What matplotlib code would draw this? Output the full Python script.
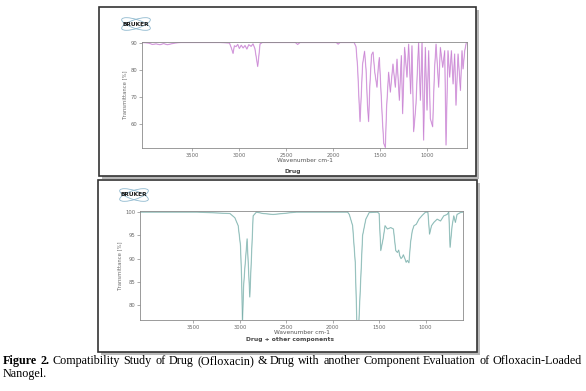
import matplotlib.pyplot as plt
from matplotlib.patches import Rectangle, Ellipse

# top spectrum: drug (ofloxacin)
drug_wn = [4030, 3960, 3920, 3880, 3840, 3800, 3760, 3720, 3680, 3620, 3200, 3100,
           3080, 3062, 3048, 3030, 3012, 2995, 2975, 2955, 2935, 2915, 2895, 2870,
           2850, 2830, 2815, 2800, 2788, 2775, 2750, 2400, 2375, 2350, 1965, 1945,
           1925, 1775, 1755, 1738, 1722, 1712, 1700, 1685, 1664, 1648, 1633, 1621,
           1608, 1590, 1574, 1555, 1532, 1518, 1507, 1492, 1475, 1460, 1443, 1430,
           1408, 1390, 1362, 1337, 1319, 1294, 1273, 1259, 1238, 1213, 1195, 1174,
           1160, 1142, 1130, 1117, 1100, 1089, 1071, 1053, 1036, 1018, 1000, 982,
           965, 940, 928, 919, 904, 876, 858, 833, 812, 798, 777, 759, 741, 723,
           706, 692, 670, 645, 628, 617, 599, 582]
drug_T = [90.0, 89.8, 89.3, 89.5, 89.2, 89.6, 89.2, 89.5, 89.8, 90.0, 90.0, 89.8,
          88.0, 86.0, 88.8, 88.5, 89.3, 87.8, 89.0, 88.0, 88.9, 87.6, 89.2, 88.6,
          89.5, 87.8, 84.5, 81.2, 85.0, 89.5, 90.0, 90.0, 89.3, 90.0, 90.0, 89.4,
          90.0, 90.0, 88.5, 81.0, 68.0, 61.0, 70.0, 82.0, 86.8, 80.0, 67.0, 61.0,
          74.0, 85.5, 86.5, 79.0, 73.6, 81.0, 84.5, 74.0, 62.0, 53.0, 51.5, 66.0,
          79.1, 71.8, 82.1, 73.6, 83.9, 68.8, 85.2, 63.9, 88.2, 77.3, 89.4, 71.2,
          88.8, 57.3, 62.0, 67.6, 82.0, 90.0, 68.8, 90.0, 54.2, 88.2, 65.2, 87.0,
          62.1, 59.1, 72.0, 80.9, 89.4, 73.6, 88.2, 80.9, 87.0, 52.4, 87.0, 77.3,
          87.0, 74.8, 85.8, 67.0, 85.8, 72.4, 87.0, 80.3, 87.0, 90.0]

# bottom spectrum: drug + other components
mix_wn = [4075, 3820, 3460, 3107, 3054, 3018, 2993, 2980, 2972, 2960, 2947, 2922,
          2893, 2857, 2822, 2750, 2643, 2536, 2393, 1840, 1822, 1786, 1758, 1740,
          1720, 1697, 1679, 1644, 1608, 1519, 1501, 1483, 1458, 1437, 1412, 1376,
          1347, 1322, 1304, 1290, 1279, 1265, 1251, 1240, 1222, 1210, 1197, 1180,
          1162, 1144, 1126, 1101, 1072, 1037, 1001, 976, 958, 937, 912, 876, 840,
          805, 769, 751, 737, 715, 697, 680, 662, 626, 598]
mix_T = [99.9, 99.9, 99.9, 99.6, 98.7, 97.0, 92.7, 85.0, 76.0, 84.0, 87.8, 94.2,
         81.8, 99.1, 99.9, 99.6, 99.4, 99.6, 99.9, 99.9, 99.4, 97.0, 89.2, 76.0,
         76.0, 86.4, 94.9, 98.4, 99.8, 99.9, 99.6, 91.7, 94.2, 97.0, 96.3, 96.6,
         96.3, 91.7, 91.3, 91.8, 90.6, 90.0, 90.3, 90.8, 89.9, 89.2, 89.6, 89.1,
         93.5, 95.9, 97.0, 97.3, 98.4, 99.2, 99.9, 99.9, 95.2, 97.0, 97.7, 98.4, 98.0,
         99.1, 99.4, 99.9, 92.4, 97.0, 99.1, 97.7, 99.4, 99.8, 99.9]

xticks = [3500, 3000, 2500, 2000, 1500, 1000]
drug_yticks = [60, 70, 80, 90]
mix_yticks = [80, 85, 90, 95, 100]

W, H = 586, 391
fig = plt.figure(figsize=(W / 100, H / 100), dpi=100)


def box(px0, py0, px1, py1):
    # figure-fraction rect from pixel corners (y down)
    return [px0 / W, 1 - py1 / H, (px1 - px0) / W, (py1 - py0) / H]


def frame(px0, py0, px1, py1):
    x, y, w, h = box(px0, py0, px1, py1)
    fig.add_artist(Rectangle((x + 2.5 / W, y - 2.5 / H), w, h, transform=fig.transFigure,
                             facecolor='#b8b8b8', edgecolor='none', zorder=-20))
    fig.add_artist(Rectangle((x, y), w, h, transform=fig.transFigure,
                             facecolor='white', edgecolor='#333333', lw=1.2, zorder=-10))


def logo(px, py):
    lax = fig.add_axes(box(px, py, px + 40, py + 18))
    lax.set_xlim(0, 40)
    lax.set_ylim(0, 18)
    lax.axis('off')
    for ang in (18, -18):
        lax.add_patch(Ellipse((20, 9), 30, 9, angle=ang, fill=False,
                              edgecolor='#8fb9cf', lw=0.6))
    lax.text(20, 9, 'BRUKER', ha='center', va='center', fontsize=4.2,
             weight='bold', color='#1a1a1a')


def spectrum(rect, wn, T, col, dark, xlim, ylim, yticks, label, title_py):
    ax = fig.add_axes(box(*rect))
    ax.plot(wn, T, color=col, lw=0.9)
    ax.plot(wn, T, color=dark, lw=0.3, alpha=0.7)
    ax.set_xlim(*xlim)
    ax.set_ylim(*ylim)
    ax.set_xticks(xticks)
    ax.set_yticks(yticks)
    for s in ax.spines.values():
        s.set_color('#8a8a8a')
        s.set_linewidth(0.6)
    ax.tick_params(length=2, width=0.5, color='#8a8a8a', labelsize=3.8,
                   labelcolor='#6a6a6a', pad=1.5)
    ax.set_xlabel('Wavenumber cm-1', fontsize=4.2, color='#555555', labelpad=0)
    ax.set_ylabel('Transmittance [%]', fontsize=3.8, color='#6a6a6a', labelpad=2)
    fig.text((rect[0] + rect[2]) / 2 / W - 0.02, 1 - title_py / H, label,
             ha='center', va='center', fontsize=4.3, weight='bold', color='#444444')
    return ax


frame(99, 7, 476, 176)
frame(98, 180, 477, 352)
logo(116, 15)
logo(114, 186)

spectrum((142, 41.7, 467, 148.3), drug_wn, drug_T, '#e0b4e6', '#b862c6',
         (4030, 575), (51.2, 90.3), drug_yticks, 'Drug', 171.5)
spectrum((140, 210.7, 463, 320), mix_wn, mix_T, '#b2d4d1', '#5a9893',
         (4075, 598), (76.9, 100.2), mix_yticks, 'Drug + other components', 340)

# caption, justified on the first line
line1 = 'Figure 2. Compatibility Study of Drug (Ofloxacin) & Drug with another Component Evaluation of Ofloxacin-Loaded'
words = line1.split()
r = fig.canvas.get_renderer()
ts = []
for i, w in enumerate(words):
    ts.append(fig.text(0, 1 - 364 / H, w, fontsize=8.7, family='Liberation Serif',
                       weight='bold' if i < 2 else 'normal', va='baseline'))
widths = [t.get_window_extent(r).width for t in ts]
gap = (579 - sum(widths)) / (len(ts) - 1)
x = 3
for t, wd in zip(ts, widths):
    t.set_x(x / W)
    x += wd + gap
fig.text(3 / W, 1 - 377.5 / H, 'Nanogel.', fontsize=8.7, family='Liberation Serif',
         va='baseline')

fig.savefig('out.png', dpi=100)
